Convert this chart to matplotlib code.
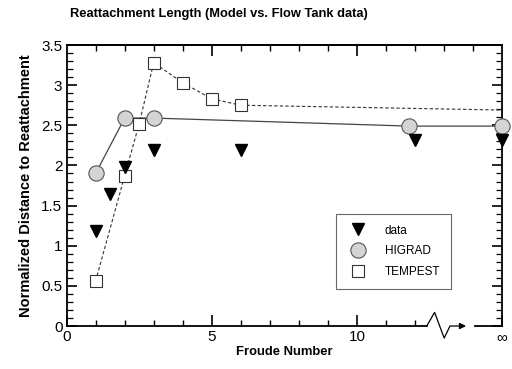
import matplotlib.pyplot as plt
from matplotlib.ticker import FixedLocator, MultipleLocator
import numpy as np

plt.rcParams['font.family'] = ['Liberation Sans', 'DejaVu Sans']

# Froude number, infinity placed at x=15
data_x = [1, 1.5, 2, 3, 6, 12, 15]
data_y = [1.18, 1.64, 1.98, 2.19, 2.19, 2.32, 2.32]

higrad_x = [1, 2, 3, 11.8, 15]
higrad_y = [1.9, 2.59, 2.59, 2.49, 2.49]

tempest_x = [1, 2, 2.5, 3, 4, 5, 6]
tempest_y = [0.56, 1.87, 2.52, 3.28, 3.03, 2.83, 2.75]
tempest_tail_x = [6, 15]
tempest_tail_y = [2.75, 2.69]

xtick_pos = [0, 5, 10, 15]
xtick_lab = ['0', '5', '10', '\u221e']

fig = plt.figure(figsize=(5.12, 3.69), dpi=100)
ax = fig.add_axes([0.130, 0.1165, 0.851, 0.7615])

ax.plot(higrad_x, higrad_y, '-', color='#444444', lw=0.9, zorder=2)
ax.plot(tempest_x, tempest_y, '--', color='#333333', lw=0.8, dashes=(3, 2), zorder=2)
ax.plot(tempest_tail_x, tempest_tail_y, '--', color='#333333', lw=0.8, dashes=(3, 2), zorder=2)

ax.plot(data_x, data_y, 'v', color='black', ms=9, ls='none', label='data', zorder=4, clip_on=False)
ax.plot(higrad_x, higrad_y, 'o', mfc='#d4d4d4', mec='#555555', mew=0.8, ms=11,
        ls='none', label='HIGRAD', zorder=3, clip_on=False)
ax.plot(tempest_x, tempest_y, 's', mfc='white', mec='#333333', mew=0.8, ms=9,
        ls='none', label='TEMPEST', zorder=3)

ax.set_xlim(0, 15)
ax.set_ylim(0, 3.5)

# bottom spine is drawn by hand because of the axis break
ax.spines['bottom'].set_visible(False)
for s in ['left', 'right', 'top']:
    ax.spines[s].set_linewidth(1.3)
ax.plot([12.4, 12.67, 13.0, 13.2, 13.6], [0, 0.17, -0.15, 0, 0],
        color='black', lw=0.9, clip_on=False)
ax.annotate('', xy=(13.85, 0), xytext=(13.45, 0),
            arrowprops=dict(arrowstyle='-|>', color='black', lw=1.0, mutation_scale=9),
            annotation_clip=False)
ax.plot([14.05, 15], [0, 0], color='black', lw=1.3, clip_on=False)
ax.plot([0, 12.4], [0, 0], color='black', lw=1.3, clip_on=False)

ax.set_xticks(xtick_pos)
ax.set_xticklabels(xtick_lab)
ax.xaxis.set_minor_locator(FixedLocator([1, 2, 3, 4, 6, 7, 8, 9, 11, 12]))
ax.tick_params(axis='x', which='both', direction='in', top=False, bottom=True, labelsize=11, pad=3)
ax.tick_params(axis='x', which='major', length=8, width=1.2)
ax.tick_params(axis='x', which='minor', length=4, width=1.0)

top = ax.secondary_xaxis('top')
top.set_xticks([5, 10])
top.set_xticklabels([])
top.xaxis.set_minor_locator(FixedLocator([1, 2, 3, 4, 6, 7, 8, 9, 11, 12, 13, 14]))
top.tick_params(which='major', direction='in', length=8, width=1.2)
top.tick_params(which='minor', direction='in', length=4, width=1.0)
top.spines['top'].set_linewidth(1.3)

ax.yaxis.set_minor_locator(MultipleLocator(0.1))
ax.set_yticks([0, 0.5, 1, 1.5, 2, 2.5, 3, 3.5])
ax.set_yticklabels(['0', '0.5', '1', '1.5', '2', '2.5', '3', '3.5'])
ax.tick_params(axis='y', which='both', direction='in', left=True, right=True, labelsize=11, pad=3)
ax.tick_params(axis='y', which='major', length=7, width=1.2)
ax.tick_params(axis='y', which='minor', length=4, width=0.9)

ax.set_xlabel('Froude Number', fontsize=9.4, fontweight='bold', labelpad=1)
ax.set_ylabel('Normalized Distance to Reattachment', fontsize=10.5, fontweight='bold', labelpad=6)
fig.text(0.137, 0.962, 'Reattachment Length (Model vs. Flow Tank data)',
         fontsize=9.3, fontweight='bold', ha='left', va='center')

leg = ax.legend(loc='upper left', bbox_to_anchor=(0.619, 0.399), fontsize=8.5,
                frameon=True, fancybox=False, edgecolor='#444444', handlelength=1.8,
                handletextpad=1.4, labelspacing=0.75, borderpad=0.9, borderaxespad=0)
leg.get_frame().set_linewidth(0.8)

fig.savefig('out.png', dpi=100)
